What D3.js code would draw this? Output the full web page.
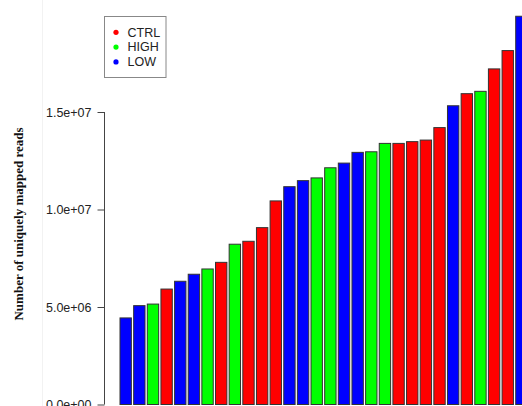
<!DOCTYPE html>
<html><head><meta charset="utf-8">
<script src="https://cdn.jsdelivr.net/npm/d3@7"></script>
<style>html,body{margin:0;padding:0;background:#fff;overflow:hidden}</style>
</head><body>
<svg id="c" width="522" height="406"></svg>
<script>
const groups = ["LOW","LOW","HIGH","CTRL","LOW","LOW","HIGH","CTRL","HIGH","CTRL",
  "CTRL","CTRL","LOW","LOW","HIGH","HIGH","LOW","LOW","HIGH","HIGH",
  "CTRL","CTRL","CTRL","CTRL","LOW","CTRL","HIGH","CTRL","CTRL","LOW"];
const reads = [4.44e6,5.07e6,5.15e6,5.92e6,6.32e6,6.68e6,6.95e6,7.29e6,8.22e6,8.37e6,
  9.07e6,10.44e6,11.17e6,11.48e6,11.62e6,12.14e6,12.38e6,12.93e6,12.96e6,13.39e6,
  13.39e6,13.48e6,13.56e6,14.20e6,15.32e6,15.94e6,16.06e6,17.21e6,18.15e6,19.91e6];
const legendLabels = ["CTRL","HIGH","LOW"];
const legendColors = ["#FF0000","#00FF00","#0000FF"];
const tickValues = [0,5e6,1e7,1.5e7];
const tickLabels = ["0.0e+00","5.0e+06","1.0e+07","1.5e+07"];
const yLabel = "Number of uniquely mapped reads";

const svg = d3.select("#c");
const color = d3.scaleOrdinal().domain(legendLabels).range(legendColors);
const y = d3.scaleLinear().domain([0,1.5e7]).range([404.5,112]);
const step = 13.645;
const x = d3.scaleBand().domain(d3.range(reads.length))
  .range([120 - step/12, 120 - step/12 + step*reads.length])
  .paddingInner(1/6).paddingOuter(1/12);

// faint frame line at left
svg.append("line").attr("x1",42.5).attr("x2",42.5).attr("y1",0).attr("y2",406)
  .attr("stroke","#f2f2f2").attr("stroke-width",1);

svg.append("g").selectAll("rect").data(reads).join("rect")
  .attr("x",(d,i)=>x(i))
  .attr("y",d=>y(d))
  .attr("width",x.bandwidth())
  .attr("height",d=>y(0)-y(d))
  .attr("fill",(d,i)=>color(groups[i]))
  .attr("stroke","#333").attr("stroke-width",1);

const axis = d3.axisLeft(y).tickValues(tickValues)
  .tickFormat((d,i)=>tickLabels[i]).tickSize(7).tickPadding(6);
const ag = svg.append("g").attr("transform","translate(104.5,0)").call(axis);
ag.select(".domain").attr("stroke","#444").attr("d","M0,112V404.5");
ag.selectAll(".tick line").attr("stroke","#444");
ag.selectAll(".tick text").attr("font-family","Liberation Sans, Arial, sans-serif")
  .attr("font-size","12.5px").attr("fill","#222");

svg.append("text")
  .attr("transform","translate(23,224) rotate(-90)")
  .attr("text-anchor","middle")
  .attr("font-family","Liberation Serif, Times New Roman, serif")
  .attr("font-weight","bold").attr("font-size","13px").attr("fill","#111")
  .text(yLabel);

// legend
const lg = svg.append("g");
lg.append("rect").attr("x",104.5).attr("y",16.5).attr("width",61.5).attr("height",61)
  .attr("fill","#fff").attr("stroke","#888").attr("stroke-width",1);
const items = lg.selectAll("g.item").data(legendLabels).join("g")
  .attr("transform",(d,i)=>`translate(0,${32.3 + i*14.8})`);
items.append("circle").attr("cx",116).attr("cy",0).attr("r",2.6)
  .attr("fill",d=>color(d));
items.append("text").attr("x",127.5).attr("y",0).attr("dy","0.35em")
  .attr("font-family","Liberation Sans, Arial, sans-serif").attr("font-size","12.5px")
  .attr("fill","#222").text(d=>d);
</script>
</body></html>
